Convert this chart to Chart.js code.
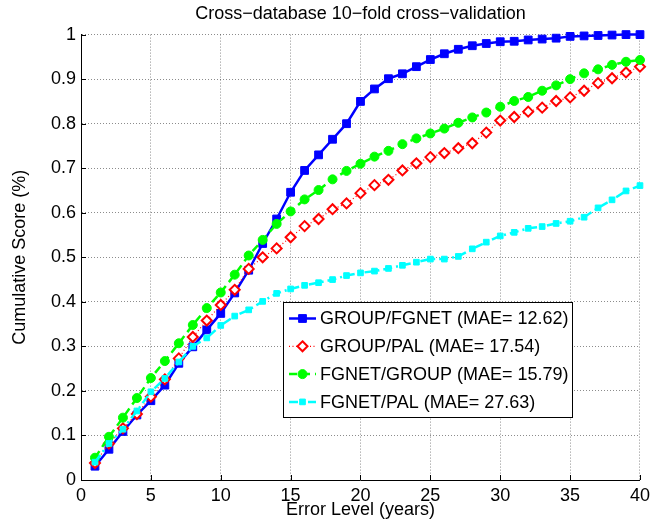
<!DOCTYPE html>
<html lang="en">
<head>
    <meta charset="UTF-8">
    <title>Cross-database 10-fold cross-validation</title>
    <style>
        * { margin: 0; padding: 0; box-sizing: border-box; }
        body { background: #fff; }
        #wrap { width: 655px; height: 521px; }
    </style>
</head>
<body>
    <div id="wrap">
        <canvas id="chart" width="655" height="521"></canvas>
    </div>

    <script src="https://cdn.jsdelivr.net/npm/chart.js@4.4.0/dist/chart.umd.min.js"></script>
    <script>
        const FONT = "'Liberation Sans', Arial, Helvetica, sans-serif";

        // Error level (years)
        const errorLevels = [1, 2, 3, 4, 5, 6, 7, 8, 9, 10, 11, 12, 13, 14, 15, 16, 17, 18, 19, 20,
            21, 22, 23, 24, 25, 26, 27, 28, 29, 30, 31, 32, 33, 34, 35, 36, 37, 38, 39, 40];

        const seriesNames = [
            "GROUP/FGNET (MAE= 12.62)",
            "GROUP/PAL (MAE= 17.54)",
            "FGNET/GROUP (MAE= 15.79)",
            "FGNET/PAL (MAE= 27.63)"
        ];

        const groupFgnet = [0.031, 0.069, 0.109, 0.146, 0.178, 0.213, 0.262, 0.299, 0.337, 0.374,
            0.420, 0.471, 0.531, 0.586, 0.646, 0.695, 0.730, 0.765, 0.800, 0.850,
            0.878, 0.901, 0.912, 0.928, 0.944, 0.957, 0.967, 0.975, 0.980, 0.984,
            0.985, 0.988, 0.990, 0.992, 0.996, 0.997, 0.998, 0.999, 1.000, 1.000];

        const groupPal = [0.038, 0.082, 0.116, 0.148, 0.187, 0.226, 0.273, 0.321, 0.358, 0.393,
            0.427, 0.474, 0.500, 0.520, 0.545, 0.570, 0.586, 0.608, 0.621, 0.644,
            0.662, 0.674, 0.695, 0.711, 0.725, 0.734, 0.745, 0.756, 0.780, 0.807,
            0.815, 0.827, 0.836, 0.851, 0.859, 0.874, 0.891, 0.902, 0.915, 0.928];

        const fgnetGroup = [0.050, 0.097, 0.140, 0.184, 0.229, 0.267, 0.307, 0.348, 0.386, 0.421,
            0.461, 0.504, 0.539, 0.575, 0.603, 0.630, 0.651, 0.675, 0.694, 0.710,
            0.726, 0.739, 0.754, 0.767, 0.778, 0.789, 0.802, 0.814, 0.825, 0.838,
            0.851, 0.860, 0.874, 0.886, 0.900, 0.913, 0.922, 0.932, 0.939, 0.943];

        const fgnetPal = [0.040, 0.082, 0.114, 0.155, 0.198, 0.228, 0.265, 0.300, 0.319, 0.347,
            0.368, 0.382, 0.401, 0.419, 0.429, 0.437, 0.443, 0.450, 0.459, 0.465,
            0.469, 0.475, 0.482, 0.489, 0.496, 0.496, 0.502, 0.519, 0.534, 0.548,
            0.556, 0.565, 0.569, 0.576, 0.581, 0.590, 0.611, 0.629, 0.649, 0.661];

        const xTickLabels = ["0", "5", "10", "15", "20", "25", "30", "35", "40"];
        const yTickLabels = ["0", "0.1", "0.2", "0.3", "0.4", "0.5", "0.6", "0.7", "0.8", "0.9", "1"];

        const toPoints = (ys) => ys.map((y, i) => ({ x: errorLevels[i], y: y }));

        // MATLAB-style inward tick marks
        const inwardTicks = {
            id: "inwardTicks",
            afterDatasetsDraw(chart) {
                const { ctx, chartArea, scales } = chart;
                ctx.save();
                ctx.strokeStyle = "#000";
                ctx.lineWidth = 1;
                ctx.beginPath();
                scales.x.ticks.forEach((t) => {
                    const px = Math.round(scales.x.getPixelForValue(t.value)) + 0.5;
                    ctx.moveTo(px, chartArea.bottom);
                    ctx.lineTo(px, chartArea.bottom - 5);
                });
                scales.y.ticks.forEach((t) => {
                    const py = Math.round(scales.y.getPixelForValue(t.value)) + 0.5;
                    ctx.moveTo(chartArea.left, py);
                    ctx.lineTo(chartArea.left + 5, py);
                });
                ctx.stroke();
                ctx.restore();
            }
        };

        function drawMarker(ctx, ds, x, y) {
            const r = ds.pointRadius;
            ctx.save();
            ctx.setLineDash([]);
            ctx.fillStyle = ds.pointBackgroundColor;
            ctx.strokeStyle = ds.pointBorderColor;
            ctx.lineWidth = ds.pointBorderWidth;
            ctx.beginPath();
            if (ds.pointStyle === "rect") {
                const s = r * Math.SQRT1_2;
                ctx.rect(x - s, y - s, 2 * s, 2 * s);
            } else if (ds.pointStyle === "rectRot") {
                ctx.moveTo(x, y - r);
                ctx.lineTo(x + r, y);
                ctx.lineTo(x, y + r);
                ctx.lineTo(x - r, y);
                ctx.closePath();
            } else {
                ctx.arc(x, y, r, 0, Math.PI * 2);
            }
            ctx.fill();
            ctx.stroke();
            ctx.restore();
        }

        // legend box inside the axes
        const boxLegend = {
            id: "boxLegend",
            afterDraw(chart) {
                const ctx = chart.ctx;
                const left = 283, top = 302, width = 289, height = 115;
                ctx.save();
                ctx.fillStyle = "#fff";
                ctx.fillRect(left, top, width, height);
                ctx.strokeStyle = "#000";
                ctx.lineWidth = 1;
                ctx.strokeRect(left + 0.5, top + 0.5, width, height);
                chart.data.datasets.forEach((ds, i) => {
                    const y = top + 16.5 + i * 27.8;
                    ctx.save();
                    ctx.strokeStyle = ds.borderColor;
                    ctx.lineWidth = ds.borderWidth;
                    ctx.setLineDash(ds.borderDash || []);
                    ctx.beginPath();
                    ctx.moveTo(left + 6, y);
                    ctx.lineTo(left + 33, y);
                    ctx.stroke();
                    ctx.restore();
                    drawMarker(ctx, ds, left + 19.5, y);
                    ctx.fillStyle = "#000";
                    ctx.font = "18px " + FONT;
                    ctx.textBaseline = "middle";
                    ctx.fillText(ds.label, left + 37, y + 1);
                });
                ctx.restore();
            }
        };

        const gridStyle = {
            color: "rgba(0,0,0,0.45)",
            lineWidth: 1,
            drawTicks: false
        };
        const borderStyle = { color: "#000", width: 1, dash: [1, 2] };

        new Chart(document.getElementById("chart"), {
            type: "line",
            plugins: [inwardTicks, boxLegend],
            data: {
                datasets: [
                    {
                        label: seriesNames[0],
                        data: toPoints(groupFgnet),
                        borderColor: "#0000ff",
                        borderWidth: 2.5,
                        pointStyle: "rect",
                        pointRadius: 5.5,
                        pointBackgroundColor: "#0000ff",
                        pointBorderColor: "#0000ff",
                        pointBorderWidth: 1,
                        order: 4
                    },
                    {
                        label: seriesNames[1],
                        data: toPoints(groupPal),
                        borderColor: "#ff0000",
                        borderWidth: 1.2,
                        borderDash: [1, 2.5],
                        pointStyle: "rectRot",
                        pointRadius: 5,
                        pointBackgroundColor: "#ffffff",
                        pointBorderColor: "#ff0000",
                        pointBorderWidth: 2,
                        order: 3
                    },
                    {
                        label: seriesNames[2],
                        data: toPoints(fgnetGroup),
                        borderColor: "#00ff00",
                        borderWidth: 2.5,
                        borderDash: [8, 5],
                        pointStyle: "circle",
                        pointRadius: 4.5,
                        pointBackgroundColor: "#00ff00",
                        pointBorderColor: "#00ff00",
                        pointBorderWidth: 1,
                        order: 2
                    },
                    {
                        label: seriesNames[3],
                        data: toPoints(fgnetPal),
                        borderColor: "#00ffff",
                        borderWidth: 2.5,
                        borderDash: [9, 4, 2, 4],
                        pointStyle: "rect",
                        pointRadius: 4,
                        pointBackgroundColor: "#00ffff",
                        pointBorderColor: "#00ffff",
                        pointBorderWidth: 1,
                        order: 1
                    }
                ]
            },
            options: {
                responsive: false,
                animation: false,
                devicePixelRatio: 1,
                layout: { padding: { left: 0, right: 13, top: 0, bottom: 0 } },
                elements: { line: { tension: 0, fill: false } },
                datasets: { line: { clip: false } },
                plugins: {
                    legend: { display: false },
                    tooltip: { enabled: false },
                    title: {
                        display: true,
                        fullSize: false,
                        text: "Cross\u2212database 10\u2212fold cross\u2212validation",
                        color: "#000",
                        font: { family: FONT, size: 18, weight: "normal", lineHeight: 1.2 },
                        padding: { top: 3, bottom: 10 }
                    }
                },
                scales: {
                    x: {
                        type: "linear",
                        min: 0,
                        max: 40,
                        afterFit: (scale) => { scale.height = 41; },
                        ticks: {
                            stepSize: 5,
                            color: "#000",
                            padding: 5,
                            maxRotation: 0,
                            font: { family: FONT, size: 18 },
                            callback: (v, i) => xTickLabels[i]
                        },
                        grid: gridStyle,
                        border: borderStyle,
                        title: {
                            display: true,
                            text: "Error Level (years)",
                            color: "#000",
                            font: { family: FONT, size: 18 },
                            padding: { top: 0, bottom: 0 }
                        }
                    },
                    y: {
                        type: "linear",
                        min: 0,
                        max: 1,
                        afterFit: (scale) => { scale.width = 81; },
                        ticks: {
                            stepSize: 0.1,
                            color: "#000",
                            padding: 5,
                            font: { family: FONT, size: 18 },
                            callback: (v, i) => yTickLabels[i]
                        },
                        grid: gridStyle,
                        border: borderStyle,
                        title: {
                            display: true,
                            text: "Cumulative Score (%)",
                            color: "#000",
                            font: { family: FONT, size: 18 },
                            padding: { top: 9, bottom: 0 }
                        }
                    }
                }
            }
        });
    </script>
</body>
</html>
